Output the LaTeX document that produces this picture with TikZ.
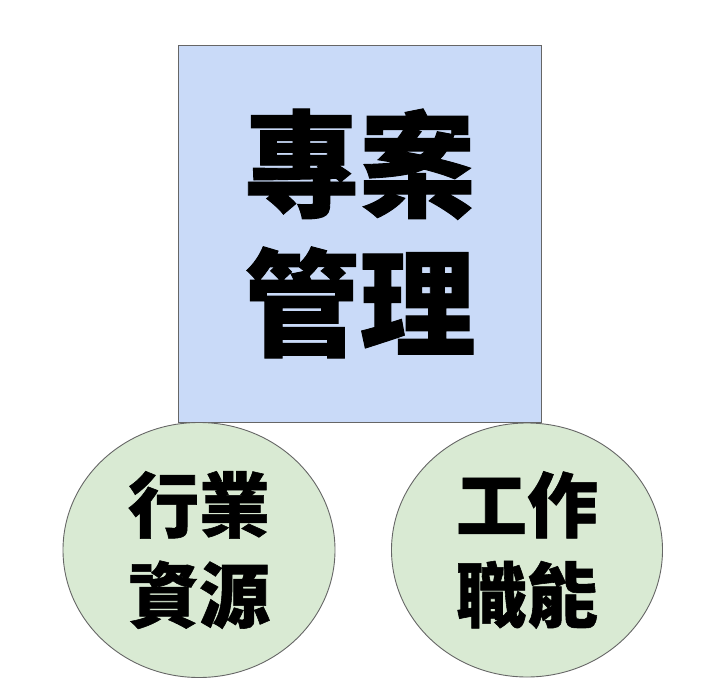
\documentclass[tikz,border=0pt]{standalone}
\usepackage{fontspec}
\newfontfamily\cjk{Noto Sans CJK TC}[BoldFeatures={FakeBold=0.8}]
\usetikzlibrary{shapes.geometric}
\definecolor{boxblue}{HTML}{C9DAF8}
\definecolor{circgreen}{HTML}{D9EAD3}
\definecolor{edgegray}{HTML}{666666}
\tikzset{
  mainbox/.style={draw=edgegray, line width=0.9pt, fill=boxblue, rectangle, inner sep=0pt},
  topic/.style={draw=edgegray, line width=0.9pt, fill=circgreen, ellipse, inner sep=0pt},
  bigtxt/.style={font=\cjk\bfseries\fontsize{116}{139}\selectfont, align=center, inner sep=0pt},
  smalltxt/.style={font=\cjk\bfseries\fontsize{71}{90}\selectfont, align=center, inner sep=0pt}
}
\begin{document}
\begin{tikzpicture}[x=1pt,y=-1pt]
\useasboundingbox (0,0) rectangle (709,687);
\node[mainbox, minimum width=363pt, minimum height=377pt] (pm) at (359.5,233.5) {};
\node[bigtxt] (pmtxt) at (pm.center) {專案\\管理};
\node[topic, minimum width=272pt, minimum height=255pt] (ind) at (199,550) {};
\node[smalltxt] (indtxt) at (ind.center) {行業\\資源};
\node[topic, minimum width=271pt, minimum height=254pt] (job) at (527,550) {};
\node[smalltxt] (jobtxt) at (job.center) {工作\\職能};
\end{tikzpicture}
\end{document}
